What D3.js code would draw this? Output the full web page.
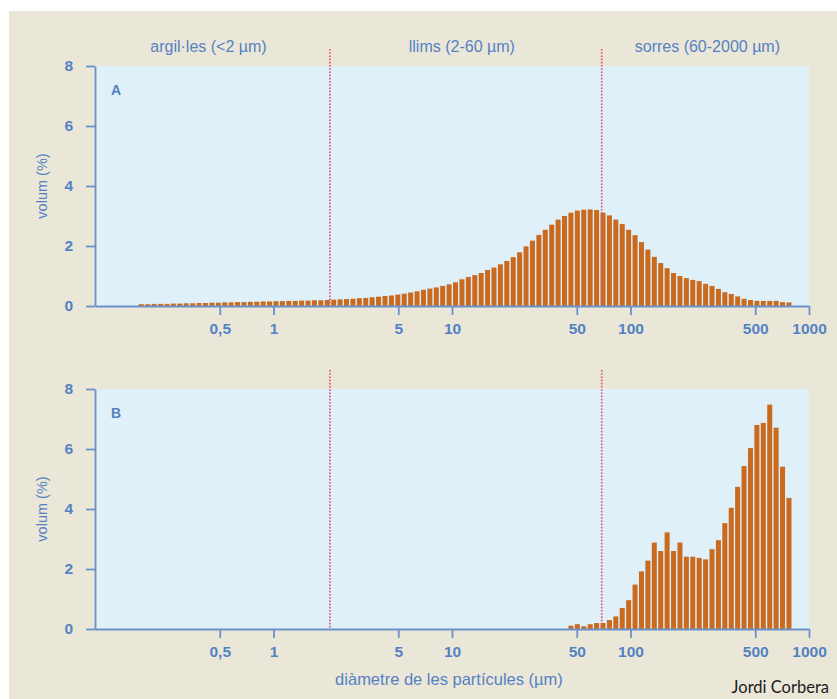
<!DOCTYPE html>
<html lang="ca">

<head>
  <meta charset="UTF-8">
  <title>Distribució granulomètrica</title>
  <script src="https://d3js.org/d3.v7.min.js"></script>
  <style>
    body {
      margin: 0;
      background: #fff;
    }

    text {
      font-family: 'Liberation Sans', Arial, sans-serif;
    }

    /* axes */
    .axis path,
    .axis line {
      stroke: #6a91cb;
      stroke-width: 1.8px;
    }

    .axis text {
      fill: #5382c3;
      font-size: 15.5px;
      font-weight: bold;
    }

    .bar {
      fill: #c96a1f;
    }

    .limit {
      stroke: #dc5670;
      stroke-width: 1.7px;
      stroke-dasharray: 1.6 1.6;
    }

    .label {
      fill: #5382c3;
    }
  </style>
</head>

<body>
  <div id="chart"></div>

  <script>
    // bins: lower edge of the first class and upper edge of the last one (µm)
    const binEdges = [0.176, 812];
    const binCount = 102;

    // volum (%) for sample A, one value per class
    const volumA = [
      0.06, 0.06, 0.07, 0.07, 0.07, 0.08, 0.08, 0.09, 0.09, 0.10,
      0.10, 0.11, 0.11, 0.12, 0.12, 0.13, 0.13, 0.14, 0.14, 0.15,
      0.15, 0.16, 0.16, 0.17, 0.17, 0.18, 0.18, 0.19, 0.19, 0.20,
      0.21, 0.22, 0.23, 0.24, 0.26, 0.27, 0.29, 0.31, 0.33, 0.35,
      0.38, 0.41, 0.45, 0.49, 0.54, 0.58, 0.62,
      0.67, 0.72, 0.79, 0.89, 0.97, 1.03, 1.10, 1.20, 1.28, 1.39,
      1.50, 1.63, 1.79, 1.99, 2.18, 2.37, 2.54, 2.71, 2.88, 3.00,
      3.11, 3.18, 3.21, 3.22, 3.20, 3.11, 3.02, 2.88,
      2.73, 2.54, 2.36, 2.13, 1.88, 1.64, 1.43, 1.26, 1.10, 1.00,
      0.93, 0.87, 0.83, 0.74, 0.67, 0.57, 0.46, 0.40, 0.32, 0.24,
      0.20, 0.17, 0.17, 0.17, 0.17, 0.13, 0.12
    ];

    // sample B only has material from class 67 upwards
    const firstBinB = 67;
    const volumB = [
      0.11, 0.16, 0.09, 0.16, 0.20, 0.20, 0.30, 0.42, 0.70, 0.96,
      1.48, 1.92, 2.28, 2.88, 2.60, 3.22, 2.60, 2.88, 2.41, 2.41,
      2.37, 2.32, 2.66, 2.96, 3.53, 4.04, 4.74, 5.43, 6.03, 6.80,
      6.87, 7.48, 6.71, 5.41, 4.37
    ];

    const xTicks = [0.5, 1, 5, 10, 50, 100, 500, 1000];
    const yTicks = [0, 2, 4, 6, 8];
    const fractionNames = ['argil·les (<2 µm)', 'llims (2-60 µm)', 'sorres (60-2000 µm)'];
    const fractionLimits = [2.07, 69];
    const panelNames = ['A', 'B'];

    const width = 837;
    const height = 699;

    const svg = d3.select('#chart').append('svg')
      .attr('width', width)
      .attr('height', height);

    // beige card
    svg.append('rect')
      .attr('x', 9).attr('y', 11)
      .attr('width', width - 9).attr('height', height - 11)
      .attr('fill', '#ebe7d8');

    const x = d3.scaleLog().domain([0.1, 1000]).range([95, 809]);
    const y = d3.scaleLinear().domain([0, 8]);

    const logStep = (Math.log10(binEdges[1]) - Math.log10(binEdges[0])) / binCount;
    const binLo = i => Math.pow(10, Math.log10(binEdges[0]) + i * logStep);
    const binHi = i => Math.pow(10, Math.log10(binEdges[0]) + (i + 1) * logStep);

    const rowsA = volumA.map((v, i) => ({ bin: i, v: v }));
    const rowsB = volumB.map((v, i) => ({ bin: firstBinB + i, v: v }));

    // fraction names above the top panel
    const bounds = [0.1].concat(fractionLimits, [1000]);
    const nudge = [-4, -4, 2];
    svg.selectAll('.fraction')
      .data(fractionNames)
      .enter().append('text')
      .attr('class', 'label')
      .attr('x', (d, i) => (x(bounds[i]) + x(bounds[i + 1])) / 2 + nudge[i])
      .attr('y', 52)
      .attr('text-anchor', 'middle')
      .style('font-size', '16px')
      .text(d => d);

    function drawPanel(rows, top, name, limitTop) {
      const bottom = top + 240;
      y.range([bottom, top]);
      const g = svg.append('g');

      g.append('rect')
        .attr('x', x.range()[0]).attr('y', top)
        .attr('width', x.range()[1] - x.range()[0])
        .attr('height', bottom - top)
        .attr('fill', '#dff0f9');

      g.selectAll('.bar')
        .data(rows)
        .enter().append('rect')
        .attr('class', 'bar')
        .attr('x', d => x(binLo(d.bin)))
        .attr('width', d => x(binHi(d.bin)) - x(binLo(d.bin)) - 1.4)
        .attr('y', d => y(d.v))
        .attr('height', d => y(0) - y(d.v));

      g.selectAll('.limit')
        .data(fractionLimits)
        .enter().append('line')
        .attr('class', 'limit')
        .attr('x1', d => x(d)).attr('x2', d => x(d))
        .attr('y1', limitTop).attr('y2', bottom);

      g.append('g')
        .attr('class', 'axis')
        .attr('transform', `translate(${x.range()[0]},0)`)
        .call(d3.axisLeft(y).tickValues(yTicks).tickSize(9).tickSizeOuter(0).tickPadding(13));

      g.append('g')
        .attr('class', 'axis')
        .attr('transform', `translate(0,${bottom})`)
        .call(d3.axisBottom(x).tickValues(xTicks).tickSize(9).tickSizeOuter(0).tickPadding(8)
          .tickFormat(d => String(d).replace('.', ',')));

      g.append('text')
        .attr('class', 'label')
        .attr('x', 111).attr('y', top + 29)
        .style('font-size', '14px')
        .style('font-weight', 'bold')
        .text(name);

      g.append('text')
        .attr('class', 'label')
        .attr('transform', `translate(47,${(top + bottom) / 2}) rotate(-90)`)
        .attr('text-anchor', 'middle')
        .style('font-size', '14.5px')
        .text('volum (%)');
    }

    drawPanel(rowsA, 66, panelNames[0], 49);
    drawPanel(rowsB, 389, panelNames[1], 370);

    svg.append('text')
      .attr('class', 'label')
      .attr('x', 449).attr('y', 685)
      .attr('text-anchor', 'middle')
      .style('font-size', '16.5px')
      .text('diàmetre de les partícules (µm)');

    svg.append('text')
      .attr('x', 829).attr('y', 693)
      .attr('text-anchor', 'end')
      .attr('fill', '#1c1c1c')
      .style('font-family', 'Lato, sans-serif')
      .style('font-size', '16.5px')
      .text('Jordi Corbera');
  </script>
</body>

</html>
